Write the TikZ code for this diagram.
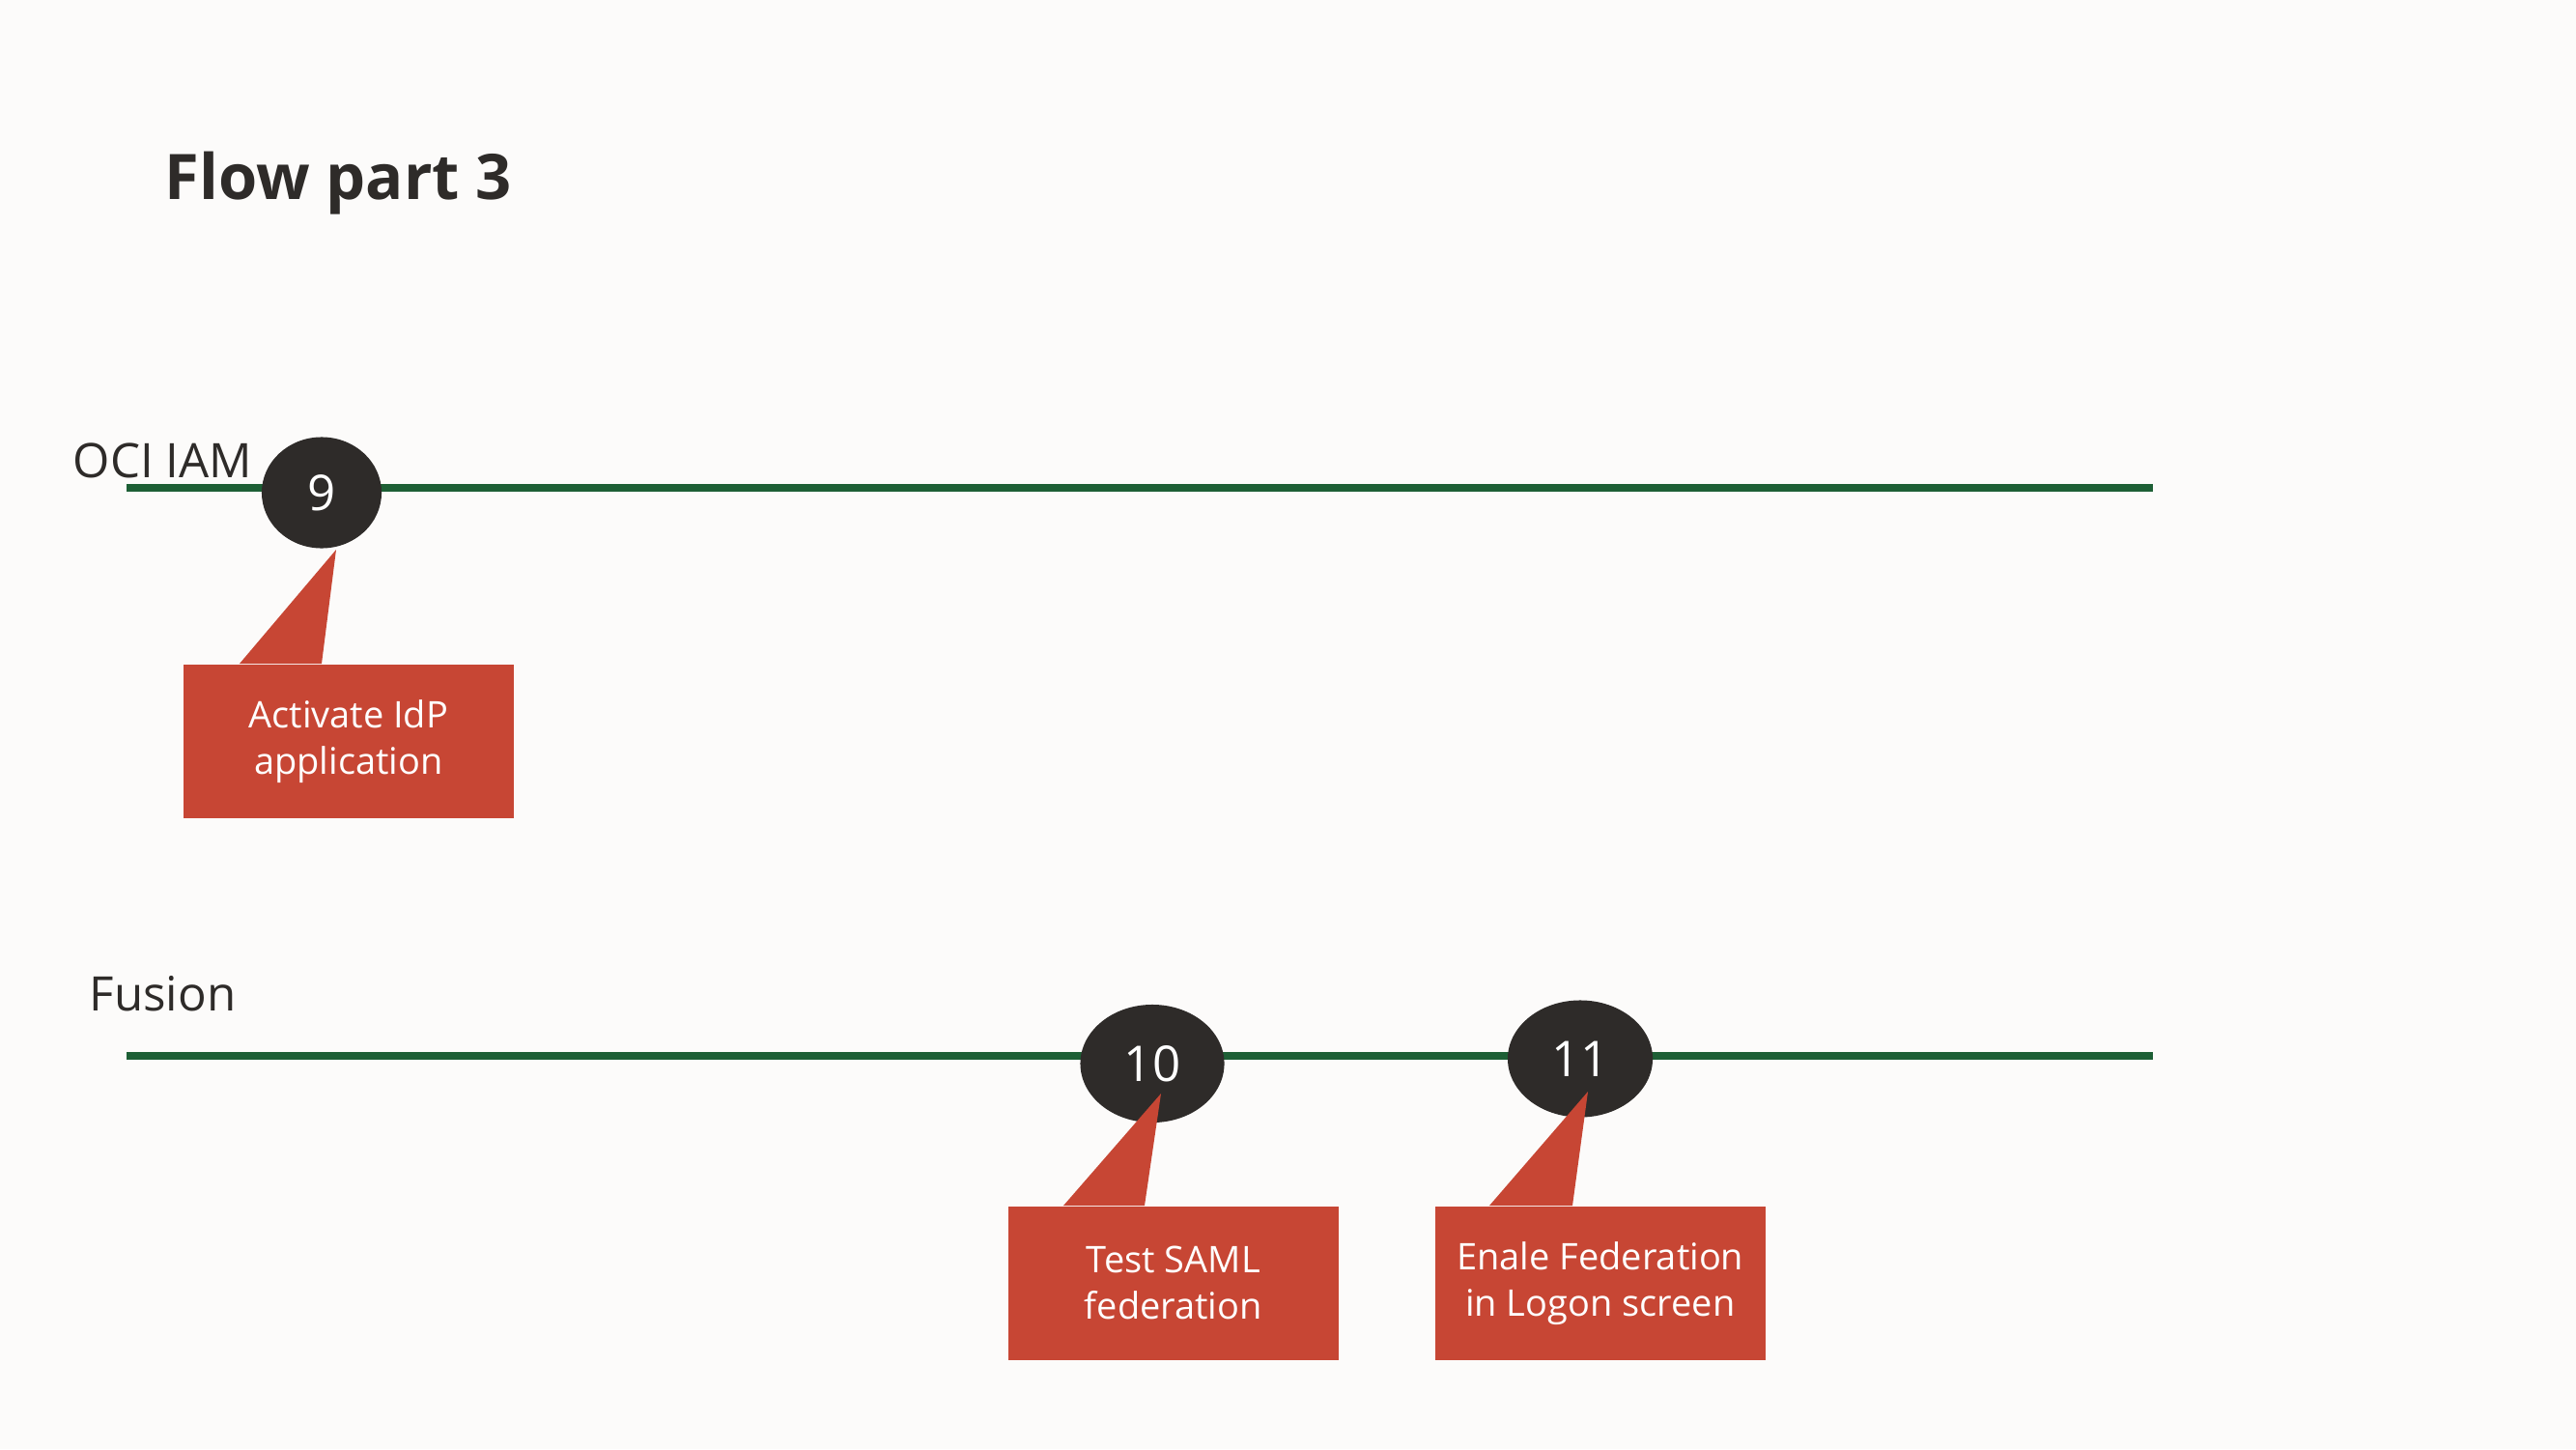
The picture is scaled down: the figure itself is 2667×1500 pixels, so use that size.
\documentclass[tikz,border=0pt]{standalone}
\usepackage{fontspec}
\setmainfont{Open Sans}
\usetikzlibrary{shapes.geometric,calc}
\definecolor{lanegreen}{HTML}{1D5F35}
\definecolor{stepdark}{HTML}{2E2B29}
\definecolor{notered}{HTML}{C74634}
\definecolor{paper}{HTML}{FCFBFA}
\definecolor{ink}{HTML}{2E2B29}

\begin{document}
\begin{tikzpicture}[x=0.01cm,y=-0.01cm,
  lane/.style={draw=lanegreen,line width=2.3pt},
  stepdot/.style={shape=ellipse,fill=stepdark,text=white,inner sep=0pt,font=\fontsize{14.5}{17}\selectfont},
  note/.style={fill=notered,text=white,align=center,inner sep=0pt,anchor=north west,
    minimum width=3.42cm,minimum height=1.59cm,font=\fontsize{10.8}{13.7}\selectfont},
  lanename/.style={anchor=base west,text=ink,inner sep=0pt,font=\fontsize{14}{17}\selectfont}]
\fill [paper] (0,0) rectangle (2667,1500);
\node (title) at (170,207) [anchor=base west,text=ink,inner sep=0pt,font=\fontsize{18.5}{22}\selectfont\bfseries] {Flow part 3};

\node (iam) at (75,494) [lanename] {OCI IAM};
\node (fusion) at (92,1046) [lanename] {Fusion};
\coordinate (iamL) at (131,505);
\coordinate (iamR) at (2229,505);
\coordinate (fusL) at (131,1093);
\coordinate (fusR) at (2229,1093);
\draw [lane] (iamL) -- (iamR);
\draw [lane] (fusL) -- (fusR);

\node  (9) at (333,510)  [stepdot,minimum width=1.24cm,minimum height=1.15cm] {9};
\node (10) at (1193,1101) [stepdot,minimum width=1.49cm,minimum height=1.22cm] {10};
\node (11) at (1636,1096) [stepdot,minimum width=1.50cm,minimum height=1.21cm] {11};

\node  (n9) at (189,687)  [note] {Activate IdP\\application};
\node (n10) at (1043,1248) [note] {Test SAML\\federation};
\node (n11) at (1485,1248) [note] {Enale Federation\\in Logon screen};

\fill [notered] ($(n9.north west)+(59,0)$) -- ($(9.center)+(15,59)$) -- ($(n9.north west)+(144,0)$) -- cycle;
\fill [notered] ($(n10.north west)+(58,0)$) -- ($(10.center)+(9,31)$) -- ($(n10.north west)+(142,0)$) -- cycle;
\fill [notered] ($(n11.north west)+(57,0)$) -- ($(11.center)+(8,34)$) -- ($(n11.north west)+(143,0)$) -- cycle;
\end{tikzpicture}
\end{document}
